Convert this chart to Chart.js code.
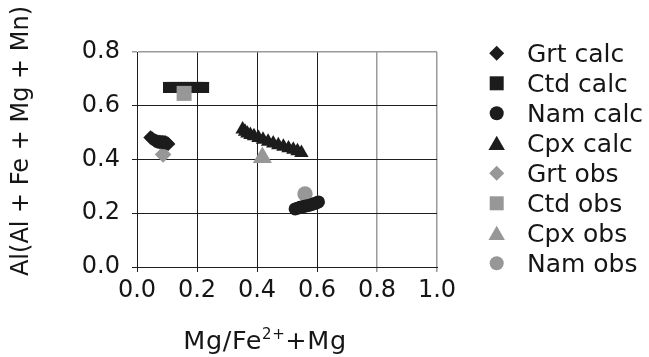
<!DOCTYPE html>
<html><head><meta charset="utf-8">
<script src="https://cdn.jsdelivr.net/npm/chart.js@4/dist/chart.umd.min.js"></script>
<style>html,body{margin:0;padding:0;background:#fff}</style>
</head><body>
<canvas id="c" width="649" height="357"></canvas>
<script>
// ---- data ----
const grtCalcX = [0.045,0.050,0.055,0.060,0.065,0.070,0.075,0.080,0.085,0.090,0.095,0.100,0.104];
const grtCalcY = [0.482,0.478,0.474,0.470,0.468,0.466,0.465,0.465,0.464,0.464,0.463,0.461,0.458];
const ctdCalcX = [0.105,0.115,0.125,0.135,0.145,0.155,0.165,0.175,0.185,0.195,0.205,0.215,0.222];
const ctdCalcY = [0.668,0.668,0.668,0.668,0.668,0.668,0.668,0.668,0.668,0.668,0.668,0.668,0.668];
const namCalcX = [0.527,0.535,0.543,0.551,0.559,0.567,0.575,0.583,0.591,0.599,0.605];
const namCalcY = [0.216,0.219,0.222,0.224,0.226,0.228,0.230,0.233,0.236,0.239,0.242];
const cpxCalcX = [0.352,0.360,0.368,0.378,0.390,0.405,0.420,0.437,0.454,0.471,0.488,0.505,0.521,0.535,0.548];
const cpxCalcY = [0.512,0.504,0.497,0.492,0.487,0.481,0.474,0.467,0.460,0.454,0.448,0.442,0.437,0.431,0.425];
const grtObsX = [0.087], grtObsY = [0.419];
const ctdObsX = [0.157], ctdObsY = [0.646];
const cpxObsX = [0.418], cpxObsY = [0.407];
const namObsX = [0.560], namObsY = [0.272];
const xTicks = [0.0,0.2,0.4,0.6,0.8,1.0];
const yTicks = [0.0,0.2,0.4,0.6,0.8];
const seriesNames = ["Grt calc","Ctd calc","Nam calc","Cpx calc","Grt obs","Ctd obs","Cpx obs","Nam obs"];

const BLACK = '#1c1c1c', GRAY = '#979797', TXT = '#161616';
const FONT = "'DejaVu Sans'";
const pts = (xs, ys) => xs.map((x, i) => ({x, y: ys[i]}));

const styles = [
  {style:'rectRot', color:BLACK, r:7.2, lr:7.5},
  {style:'rect',    color:BLACK, r:7.8, lr:10},
  {style:'circle',  color:BLACK, r:6.5, lr:7},
  {style:'triangle',color:BLACK, r:8.3, lr:9.5},
  {style:'rectRot', color:GRAY,  r:8.3, lr:7.5},
  {style:'rect',    color:GRAY,  r:10.6,lr:10},
  {style:'triangle',color:GRAY,  r:11,  lr:9.5},
  {style:'circle',  color:GRAY,  r:7.7, lr:7}
];
const dataSets = [
  pts(grtCalcX, grtCalcY), pts(ctdCalcX, ctdCalcY), pts(namCalcX, namCalcY), pts(cpxCalcX, cpxCalcY),
  pts(grtObsX, grtObsY), pts(ctdObsX, ctdObsY), pts(cpxObsX, cpxObsY), pts(namObsX, namObsY)
];

function shape(ctx, style, r, x, y) {
  ctx.beginPath();
  if (style === 'circle') { ctx.arc(x, y, r, 0, Math.PI*2); }
  else if (style === 'rect') { const s = r; ctx.rect(x - s, y - s, 2*s, 2*s); }
  else if (style === 'rectRot') { ctx.moveTo(x, y - r); ctx.lineTo(x + r, y); ctx.lineTo(x, y + r); ctx.lineTo(x - r, y); ctx.closePath(); }
  else if (style === 'triangle') {
    ctx.moveTo(x, y - r);
    ctx.lineTo(x + r*Math.sin(2*Math.PI/3), y - r*Math.cos(2*Math.PI/3));
    ctx.lineTo(x + r*Math.sin(4*Math.PI/3), y - r*Math.cos(4*Math.PI/3));
    ctx.closePath();
  }
  ctx.fill();
}

const decor = {
  id: 'decor',
  afterDraw(chart) {
    const ctx = chart.ctx;
    ctx.save();
    ctx.fillStyle = TXT;
    // y title
    ctx.save();
    ctx.translate(22, 141);
    ctx.rotate(-Math.PI/2);
    ctx.font = `24px ${FONT}`;
    ctx.textAlign = 'center';
    ctx.textBaseline = 'middle';
    ctx.fillText('Al(Al + Fe + Mg + Mn)', 0, 0);
    ctx.restore();
    // x title with superscript
    ctx.textBaseline = 'alphabetic';
    ctx.textAlign = 'left';
    ctx.letterSpacing = '0.6px';
    const big = `25.5px ${FONT}`, small = `15px ${FONT}`;
    ctx.font = big; const w1 = ctx.measureText('Mg/Fe').width;
    ctx.font = small; const w2 = ctx.measureText('2+').width;
    ctx.font = big; const w3 = ctx.measureText('+Mg').width;
    let x0 = 265 - (w1 + w2 + w3) / 2, yb = 349;
    ctx.font = big; ctx.fillText('Mg/Fe', x0, yb);
    ctx.font = small; ctx.fillText('2+', x0 + w1, yb - 10);
    ctx.font = big; ctx.fillText('+Mg', x0 + w1 + w2, yb);
    // legend
    ctx.font = `25px ${FONT}`;
    ctx.letterSpacing = '0px';
    seriesNames.forEach((name, i) => {
      const cy = 53.3 + 30 * i;
      const st = styles[i];
      ctx.fillStyle = st.color;
      let r = st.lr;
      if (st.style === 'rect') r = 7;
      shape(ctx, st.style, r, 496.7, st.style === 'triangle' ? cy + 2 : cy);
      ctx.fillStyle = TXT;
      ctx.fillText(name, 527, cy + 9);
    });
    ctx.restore();
  }
};

const gridColor = (c) => (c.tick && c.tick.value > 0.79) ? '#9a9a9a' : '#1e1e1e';
const gridWidth = (c) => (c.tick && c.tick.value > 0.79) ? 1.5 : 1;

new Chart(document.getElementById('c'), {
  type: 'scatter',
  data: {
    datasets: dataSets.map((d, i) => ({
      label: seriesNames[i],
      data: d,
      pointStyle: styles[i].style,
      pointRadius: styles[i].r,
      pointHoverRadius: styles[i].r,
      pointBorderWidth: 0,
      borderWidth: 0,
      backgroundColor: styles[i].color,
      borderColor: styles[i].color,
      order: i === 5 ? -1 : 0
    }))
  },
  options: {
    responsive: false,
    animation: false,
    devicePixelRatio: 1,
    events: [],
    layout: {padding: {left: 0, top: 52, right: 212, bottom: 0}},
    plugins: {legend: {display: false}, tooltip: {enabled: false}},
    scales: {
      x: {
        type: 'linear', min: 0, max: 1,
        afterBuildTicks: s => { s.ticks = xTicks.map(v => ({value: v})); },
        afterFit: s => { s.height = 90; },
        ticks: {callback: v => Number(v).toFixed(1), font: {family: 'DejaVu Sans', size: 24}, color: TXT, padding: 4, maxRotation: 0},
        grid: {color: gridColor, lineWidth: gridWidth, tickLength: 5, drawTicks: true},
        border: {color: '#1e1e1e', width: 1}
      },
      y: {
        type: 'linear', min: 0, max: 0.8,
        afterBuildTicks: s => { s.ticks = yTicks.map(v => ({value: v})); },
        afterFit: s => { s.width = 137; },
        ticks: {callback: v => Number(v).toFixed(1), font: {family: 'DejaVu Sans', size: 24}, color: TXT, padding: 12},
        grid: {color: gridColor, lineWidth: gridWidth, tickLength: 5, drawTicks: true},
        border: {color: '#1e1e1e', width: 1}
      }
    }
  },
  plugins: [decor]
});
</script>
</body></html>
